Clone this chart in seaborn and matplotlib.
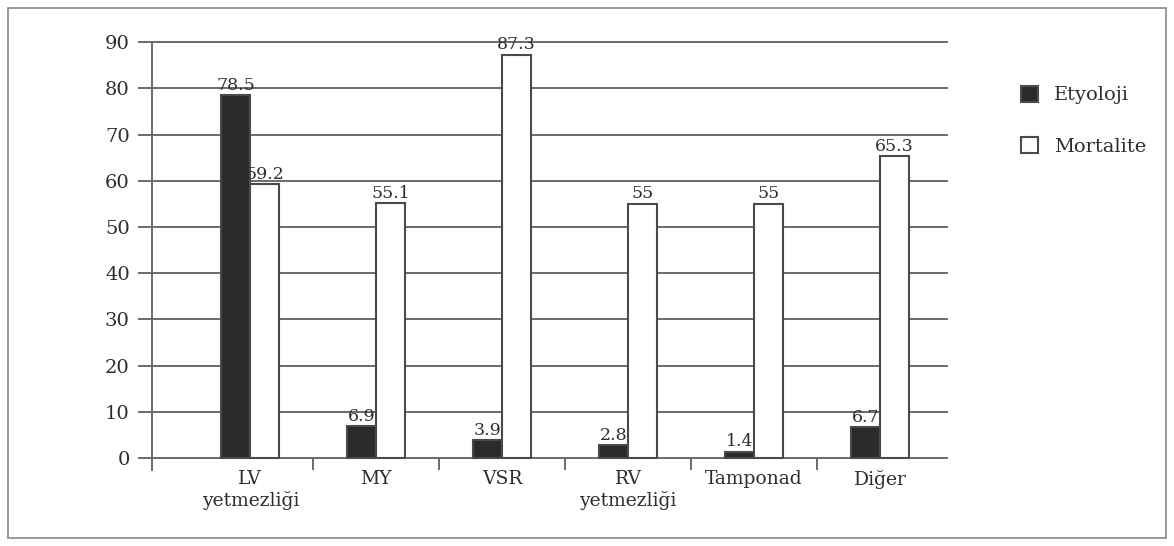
import matplotlib
matplotlib.use("Agg")
import matplotlib.pyplot as plt
import seaborn as sns
import pandas as pd
from matplotlib.patches import Rectangle
from matplotlib.ticker import FixedLocator

categories = ["LV\nyetmezliği", "MY", "VSR", "RV\nyetmezliği", "Tamponad", "Diğer"]
etyoloji = [78.5, 6.9, 3.9, 2.8, 1.4, 6.7]
mortalite = [59.2, 55.1, 87.3, 55, 55, 65.3]
series_names = ["Etyoloji", "Mortalite"]
yticks = [0, 10, 20, 30, 40, 50, 60, 70, 80, 90]

sns.set_theme(style="white")
plt.rcParams["font.family"] = ["DejaVu Serif", "DejaVu Sans"]

df = pd.DataFrame({
    "kategori": categories * 2,
    "seri": [series_names[0]] * len(categories) + [series_names[1]] * len(categories),
    "deger": etyoloji + mortalite,
})

fig = plt.figure(figsize=(11.74, 5.46), dpi=100)
ax = fig.add_axes([152 / 1174, 1 - 470 / 546, (948 - 152) / 1174, (470 - 41) / 546])

grid_c = "#6a6a6a"
txt_c = "#2e2e2e"
sns.barplot(data=df, x="kategori", y="deger", hue="seri", order=categories,
            hue_order=series_names, palette={"Etyoloji": "#2b2b2b", "Mortalite": "white"},
            width=0.46, gap=0, edgecolor="#4a4a4a", linewidth=1.5, ax=ax, zorder=3)

for cont, vals in zip(ax.containers, [etyoloji, mortalite]):
    ax.bar_label(cont, labels=[f"{v:g}" for v in vals], padding=1, fontsize=12.5, color=txt_c)

ax.set_xlim(-0.78, 5.54)
ax.set_ylim(-2.6, 90.25)
ax.set_yticks(yticks)
ax.set_axisbelow(True)
ax.yaxis.grid(True, color=grid_c, linewidth=1.4, zorder=0)
ax.xaxis.grid(False)
for s in ["top", "right", "bottom"]:
    ax.spines[s].set_visible(False)
ax.spines["left"].set_color(grid_c)
ax.spines["left"].set_linewidth(1.4)
ax.spines["left"].set_bounds(-2.6, 90)

ax.tick_params(axis="y", direction="out", length=10, width=1.4, color=grid_c,
               labelsize=14, labelcolor=txt_c, pad=6, left=True)
ax.tick_params(axis="x", which="major", length=0, labelsize=13.5, labelcolor=txt_c, pad=0)
ax.xaxis.set_minor_locator(FixedLocator([0.5, 1.5, 2.5, 3.5, 4.5]))
ax.tick_params(axis="x", which="minor", direction="in", length=9, width=1.4, color=grid_c, bottom=True)
ax.set_xlabel("")
ax.set_ylabel("")

handles, labels = ax.get_legend_handles_labels()
ax.get_legend().remove()
fig.legend(handles, labels, loc="upper left", bbox_to_anchor=(1003 / 1174, 1 - 68 / 546),
           frameon=False, fontsize=14, labelspacing=1.7, handlelength=0.9, handleheight=0.9,
           handletextpad=0.8, labelcolor=txt_c)

fig.patches.append(Rectangle((8 / 1174, 8 / 546), 1158 / 1174, 530 / 546,
                             transform=fig.transFigure, fill=False, edgecolor="#888888",
                             linewidth=1.2))

fig.savefig("out.png", dpi=100, facecolor="white")
